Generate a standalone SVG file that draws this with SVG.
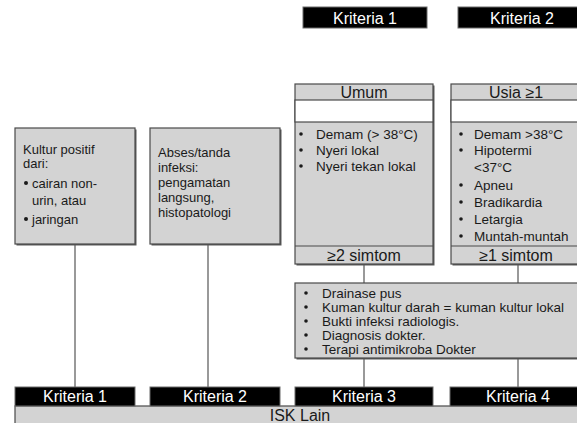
<svg xmlns="http://www.w3.org/2000/svg" width="577" height="423" viewBox="0 0 577 423">
<style>
.box{fill:#d3d3d3;stroke:#4a4a4a;stroke-width:1.2}
.sh{fill:#5a5a5a}
.white{fill:#ffffff;stroke:#4a4a4a;stroke-width:1.2}
.blk{fill:#000000;stroke:#6a6a6a;stroke-width:1}
.lbl{font-family:"Liberation Sans",Arial,sans-serif;font-size:16px;fill:#ffffff;text-anchor:middle}
.hd{font-family:"Liberation Sans",Arial,sans-serif;font-size:16px;fill:#1a1a1a;text-anchor:middle}
.t{font-family:"Liberation Sans",Arial,sans-serif;font-size:13.5px;fill:#1a1a1a}
.t2{font-family:"Liberation Sans",Arial,sans-serif;font-size:13px;fill:#1a1a1a}
.b{fill:#1a1a1a}
.conn{stroke:#555555;stroke-width:1.2;fill:none}
.div{stroke:#4a4a4a;stroke-width:1.2}
</style>
<g id="connectors">
<line class="conn" x1="75" y1="244" x2="75" y2="387"/>
<line class="conn" x1="208" y1="244" x2="208" y2="387"/>
<line class="conn" x1="364" y1="264" x2="364" y2="283"/>
<line class="conn" x1="518" y1="264" x2="518" y2="283"/>
<line class="conn" x1="364" y1="358" x2="364" y2="387"/>
<line class="conn" x1="518" y1="358" x2="518" y2="387"/>
</g>
<g id="top-k1">
<rect class="blk" x="303" y="7" width="124" height="21"/>
<text class="lbl" x="365" y="24">Kriteria 1</text>
</g>
<g id="top-k2">
<rect class="blk" x="458" y="7" width="122" height="21"/>
<text class="lbl" x="522" y="24">Kriteria 2</text>
</g>
<g id="kultur">
<rect class="sh" x="16.5" y="129.5" width="120" height="116"/>
<rect class="box" x="15" y="128" width="120" height="116"/>
<text class="t2" x="23" y="154">Kultur positif</text>
<text class="t2" x="23" y="168">dari:</text>
<circle class="b" cx="26" cy="183" r="2"/>
<text class="t2" x="32" y="188">cairan non-</text>
<text class="t2" x="32" y="205">urin, atau</text>
<circle class="b" cx="26" cy="219" r="2"/>
<text class="t2" x="32" y="224">jaringan</text>
</g>
<g id="abses">
<rect class="sh" x="151.5" y="129.5" width="130" height="116"/>
<rect class="box" x="150" y="128" width="130" height="116"/>
<text class="t2" x="158" y="157">Abses/tanda</text>
<text class="t2" x="158" y="172">infeksi:</text>
<text class="t2" x="158" y="187">pengamatan</text>
<text class="t2" x="158" y="202">langsung,</text>
<text class="t2" x="158" y="217">histopatologi</text>
</g>
<g id="umum">
<rect class="sh" x="296.5" y="85.5" width="138" height="180"/>
<rect class="box" x="295" y="84" width="138" height="180"/>
<rect class="white" x="295" y="100" width="138" height="22"/>
<line class="div" x1="295" y1="246" x2="433" y2="246"/>
<text class="hd" x="364" y="98">Umum</text>
<circle class="b" cx="301" cy="134" r="1.8"/>
<text class="t" x="316" y="139">Demam (&gt; 38°C)</text>
<circle class="b" cx="301" cy="150" r="1.8"/>
<text class="t" x="316" y="155">Nyeri lokal</text>
<circle class="b" cx="301" cy="166" r="1.8"/>
<text class="t" x="316" y="171">Nyeri tekan lokal</text>
<text class="hd" x="364" y="261">≥2 simtom</text>
</g>
<g id="usia">
<rect class="sh" x="452.5" y="85.5" width="130" height="180"/>
<rect class="box" x="451" y="84" width="130" height="180"/>
<rect class="white" x="451" y="100" width="130" height="22"/>
<line class="div" x1="451" y1="246" x2="577" y2="246"/>
<text class="hd" x="516" y="98">Usia ≥1</text>
<circle class="b" cx="461" cy="134" r="1.8"/>
<text class="t" x="474" y="139">Demam &gt;38°C</text>
<circle class="b" cx="461" cy="150" r="1.8"/>
<text class="t" x="474" y="155">Hipotermi</text>
<text class="t" x="474" y="172">&lt;37°C</text>
<circle class="b" cx="461" cy="185" r="1.8"/>
<text class="t" x="474" y="190">Apneu</text>
<circle class="b" cx="461" cy="202" r="1.8"/>
<text class="t" x="474" y="207">Bradikardia</text>
<circle class="b" cx="461" cy="219" r="1.8"/>
<text class="t" x="474" y="224">Letargia</text>
<circle class="b" cx="461" cy="236" r="1.8"/>
<text class="t" x="474" y="241">Muntah-muntah</text>
<text class="hd" x="516" y="261">≥1 simtom</text>
</g>
<g id="kriteria3-list">
<rect class="sh" x="296.5" y="284.5" width="286" height="75"/>
<rect class="box" x="295" y="283" width="286" height="75"/>
<circle class="b" cx="306" cy="293" r="1.8"/>
<text class="t" x="322" y="298">Drainase pus</text>
<circle class="b" cx="306" cy="307" r="1.8"/>
<text class="t" x="322" y="312">Kuman kultur darah = kuman kultur lokal</text>
<circle class="b" cx="306" cy="321" r="1.8"/>
<text class="t" x="322" y="326">Bukti infeksi radiologis.</text>
<circle class="b" cx="306" cy="335" r="1.8"/>
<text class="t" x="322" y="340">Diagnosis dokter.</text>
<circle class="b" cx="306" cy="349" r="1.8"/>
<text class="t" x="322" y="354">Terapi antimikroba Dokter</text>
</g>
<g id="isk-lain">
<rect class="box" x="15" y="406" width="566" height="20"/>
<text class="hd" x="300" y="421">ISK Lain</text>
</g>
<g id="bot-k1">
<rect class="blk" x="15" y="387" width="120" height="19"/>
<text class="lbl" x="75" y="402">Kriteria 1</text>
</g>
<g id="bot-k2">
<rect class="blk" x="150" y="387" width="130" height="19"/>
<text class="lbl" x="215" y="402">Kriteria 2</text>
</g>
<g id="bot-k3">
<rect class="blk" x="295" y="387" width="138" height="19"/>
<text class="lbl" x="364" y="402">Kriteria 3</text>
</g>
<g id="bot-k4">
<rect class="blk" x="450" y="387" width="131" height="19"/>
<text class="lbl" x="518" y="402">Kriteria 4</text>
</g>
</svg>
